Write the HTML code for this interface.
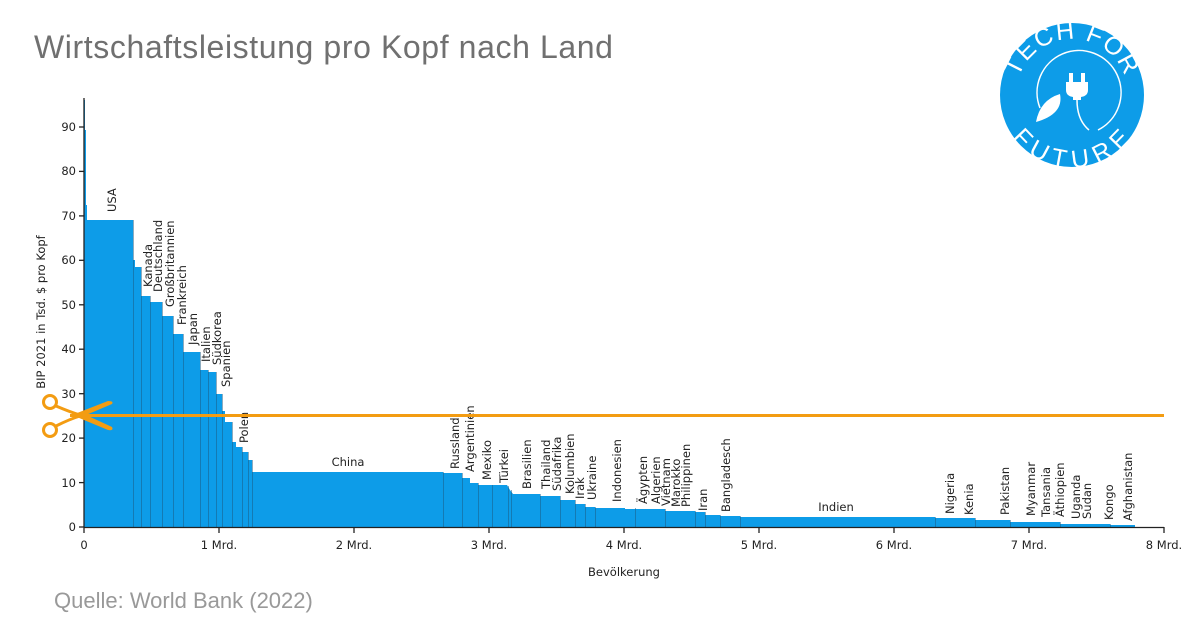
<!DOCTYPE html>
<html><head><meta charset="utf-8"><style>
body{margin:0;background:#fff;width:1200px;height:630px;overflow:hidden;font-family:"Liberation Sans","DejaVu Sans",sans-serif}
</style></head><body>
<svg width="1200" height="630" xmlns="http://www.w3.org/2000/svg" font-family="'DejaVu Sans','Liberation Sans',sans-serif">
<text x="34" y="58" font-family="'Liberation Sans',sans-serif" font-size="32" letter-spacing="0.6" fill="#707070">Wirtschaftsleistung pro Kopf nach Land</text>
<text x="54" y="608" font-family="'Liberation Sans',sans-serif" font-size="22" fill="#999">Quelle: World Bank (2022)</text>
<!-- bars -->
<polygon fill="#0d9ce8" points="84,527 84,100 85,100 85,130 86,130 86,205 87,205 87,220 133,220 133,260 135,260 135,267 141,267 141,296 150,296 150,302 162,302 162,316 173,316 173,334 183,334 183,352 200,352 200,370 208,370 208,372 216,372 216,394 222,394 222,411 225,411 225,422 232,422 232,442 236,442 236,447 242,447 242,452 248,452 248,460 252,460 252,472 443,472 443,473 462,473 462,478 470,478 470,483 478,483 478,485 507,485 510,490 513,494 540,494 540,496 560,496 560,500 575,500 575,504 585,504 585,507 595,507 595,508 625,508 625,509 665,509 665,511 695,511 695,512 705,512 705,515 720,515 720,516 740,516 740,517 935,517 935,518 975,518 975,520 1010,520 1010,522 1060,522 1060,524 1110,524 1110,525 1135,525 1135,527"/>
<g stroke="#1c5a80" stroke-width="1" opacity="0.5">
<line x1="133.5" y1="220" x2="133.5" y2="527"/><line x1="141.5" y1="267" x2="141.5" y2="527"/><line x1="150.5" y1="296" x2="150.5" y2="527"/><line x1="162.5" y1="302" x2="162.5" y2="527"/><line x1="173.5" y1="316" x2="173.5" y2="527"/><line x1="183.5" y1="334" x2="183.5" y2="527"/><line x1="200.5" y1="352" x2="200.5" y2="527"/><line x1="208.5" y1="370" x2="208.5" y2="527"/><line x1="216.5" y1="372" x2="216.5" y2="527"/><line x1="222.5" y1="394" x2="222.5" y2="527"/><line x1="232.5" y1="422" x2="232.5" y2="527"/><line x1="242.5" y1="447" x2="242.5" y2="527"/><line x1="248.5" y1="452" x2="248.5" y2="527"/><line x1="252.5" y1="460" x2="252.5" y2="527"/>
<line x1="443.5" y1="472" x2="443.5" y2="527"/><line x1="462.5" y1="473" x2="462.5" y2="527"/><line x1="478.5" y1="483" x2="478.5" y2="527"/><line x1="492.5" y1="485" x2="492.5" y2="527"/><line x1="508.5" y1="486" x2="508.5" y2="527"/><line x1="511.5" y1="490" x2="511.5" y2="527"/><line x1="540.5" y1="494" x2="540.5" y2="527"/><line x1="560.5" y1="496" x2="560.5" y2="527"/><line x1="575.5" y1="500" x2="575.5" y2="527"/><line x1="585.5" y1="504" x2="585.5" y2="527"/><line x1="595.5" y1="507" x2="595.5" y2="527"/><line x1="635.5" y1="508" x2="635.5" y2="527"/><line x1="665.5" y1="509" x2="665.5" y2="527"/><line x1="695.5" y1="511" x2="695.5" y2="527"/><line x1="705.5" y1="512" x2="705.5" y2="527"/><line x1="720.5" y1="515" x2="720.5" y2="527"/><line x1="740.5" y1="516" x2="740.5" y2="527"/><line x1="935.5" y1="517" x2="935.5" y2="527"/><line x1="975.5" y1="518" x2="975.5" y2="527"/><line x1="1010.5" y1="520" x2="1010.5" y2="527"/><line x1="1060.5" y1="522" x2="1060.5" y2="527"/><line x1="1110.5" y1="524" x2="1110.5" y2="527"/>
</g>
<!-- axes -->
<g stroke="#222" stroke-width="1.3">
<line x1="84" y1="98" x2="84" y2="527"/><line x1="84" y1="527.5" x2="1164" y2="527.5"/>
<line x1="79" y1="527" x2="84" y2="527"/><line x1="79" y1="482.6" x2="84" y2="482.6"/><line x1="79" y1="438.1" x2="84" y2="438.1"/><line x1="79" y1="393.7" x2="84" y2="393.7"/><line x1="79" y1="349.2" x2="84" y2="349.2"/><line x1="79" y1="304.8" x2="84" y2="304.8"/><line x1="79" y1="260.3" x2="84" y2="260.3"/><line x1="79" y1="215.9" x2="84" y2="215.9"/><line x1="79" y1="171.4" x2="84" y2="171.4"/><line x1="79" y1="127" x2="84" y2="127"/>
<line x1="84" y1="527" x2="84" y2="533"/><line x1="219" y1="527" x2="219" y2="533"/><line x1="354" y1="527" x2="354" y2="533"/><line x1="489" y1="527" x2="489" y2="533"/><line x1="624" y1="527" x2="624" y2="533"/><line x1="759" y1="527" x2="759" y2="533"/><line x1="894" y1="527" x2="894" y2="533"/><line x1="1029" y1="527" x2="1029" y2="533"/><line x1="1164" y1="527" x2="1164" y2="533"/>
</g>
<g font-size="11.5" fill="#222" text-anchor="end">
<text x="76" y="531">0</text><text x="76" y="487">10</text><text x="76" y="442">20</text><text x="76" y="398">30</text><text x="76" y="353">40</text><text x="76" y="309">50</text><text x="76" y="264">60</text><text x="76" y="220">70</text><text x="76" y="175">80</text><text x="76" y="131">90</text>
</g>
<g font-size="11.5" fill="#222" text-anchor="middle">
<text x="84" y="549">0</text><text x="219" y="549">1 Mrd.</text><text x="354" y="549">2 Mrd.</text><text x="489" y="549">3 Mrd.</text><text x="624" y="549">4 Mrd.</text><text x="759" y="549">5 Mrd.</text><text x="894" y="549">6 Mrd.</text><text x="1029" y="549">7 Mrd.</text><text x="1164" y="549">8 Mrd.</text>
<text x="624" y="576">Bevölkerung</text>
<text transform="translate(45,312) rotate(-90)">BIP 2021 in Tsd. $ pro Kopf</text>
<text x="348" y="466">China</text><text x="836" y="511">Indien</text>
</g>
<g font-size="11.5" fill="#222">
<text transform="translate(116,212) rotate(-90)">USA</text>
<text transform="translate(152,287) rotate(-90)">Kanada</text>
<text transform="translate(162,292) rotate(-90)">Deutschland</text>
<text transform="translate(174,307) rotate(-90)">Großbritannien</text>
<text transform="translate(186,325) rotate(-90)">Frankreich</text>
<text transform="translate(197,345) rotate(-90)">Japan</text>
<text transform="translate(210,362) rotate(-90)">Italien</text>
<text transform="translate(221,365) rotate(-90)">Südkorea</text>
<text transform="translate(230,387) rotate(-90)">Spanien</text>
<text transform="translate(248,443) rotate(-90)">Polen</text>
<text transform="translate(459,469) rotate(-90)">Russland</text>
<text transform="translate(474,472) rotate(-90)">Argentinien</text>
<text transform="translate(491,480) rotate(-90)">Mexiko</text>
<text transform="translate(508,483) rotate(-90)">Türkei</text>
<text transform="translate(531,489) rotate(-90)">Brasilien</text>
<text transform="translate(550,489) rotate(-90)">Thailand</text>
<text transform="translate(561,491) rotate(-90)">Südafrika</text>
<text transform="translate(574,494) rotate(-90)">Kolumbien</text>
<text transform="translate(584,499) rotate(-90)">Irak</text>
<text transform="translate(596,500) rotate(-90)">Ukraine</text>
<text transform="translate(621,502) rotate(-90)">Indonesien</text>
<text transform="translate(647,504) rotate(-90)">Ägypten</text>
<text transform="translate(660,504) rotate(-90)">Algerien</text>
<text transform="translate(670,506) rotate(-90)">Vietnam</text>
<text transform="translate(680,507) rotate(-90)">Marokko</text>
<text transform="translate(690,507) rotate(-90)">Philippinen</text>
<text transform="translate(707,511) rotate(-90)">Iran</text>
<text transform="translate(730,512) rotate(-90)">Bangladesch</text>
<text transform="translate(954,514) rotate(-90)">Nigeria</text>
<text transform="translate(973,515) rotate(-90)">Kenia</text>
<text transform="translate(1009,515) rotate(-90)">Pakistan</text>
<text transform="translate(1035,516) rotate(-90)">Myanmar</text>
<text transform="translate(1050,517) rotate(-90)">Tansania</text>
<text transform="translate(1064,517) rotate(-90)">Äthiopien</text>
<text transform="translate(1080,519) rotate(-90)">Uganda</text>
<text transform="translate(1091,519) rotate(-90)">Sudan</text>
<text transform="translate(1113,520) rotate(-90)">Kongo</text>
<text transform="translate(1132,521) rotate(-90)">Afghanistan</text>
</g>
<!-- cut line & scissors -->
<line x1="70" y1="415.5" x2="1164" y2="415.5" stroke="#f39c12" stroke-width="3"/>
<g fill="none" stroke="#f39c12" stroke-width="3">
<circle cx="50" cy="402" r="6.5"/><circle cx="50" cy="430" r="6.5"/>
<path d="M56,406 Q70,412 80,415 M56,426 Q70,419 80,416"/>
</g>
<path d="M72,415 L108,401 Q114,401 112,404 L86,415 L112,427 Q114,431 108,430 Z" fill="#f39c12"/>
<!-- logo -->
<circle cx="1072" cy="95" r="72" fill="#0d9ce8"/>
<defs>
<path id="arcTop" d="M1016,95 A56,56 0 0 1 1128,95"/>
<path id="arcBot" d="M1014,92 A58,58 0 0 0 1130,92"/>
</defs>
<text font-family="'Liberation Sans',sans-serif" font-size="25" fill="#fff" letter-spacing="1.5"><textPath href="#arcTop" startOffset="50%" text-anchor="middle">TECH FOR</textPath></text>
<text font-family="'Liberation Sans',sans-serif" font-size="25" fill="#fff" letter-spacing="1.5"><textPath href="#arcBot" startOffset="50%" text-anchor="middle" dominant-baseline="hanging">FUTURE</textPath></text>
<path d="M1040,108 A42,42 0 1 1 1098,130" fill="none" stroke="#fff" stroke-width="1.5"/>
<path d="M1066,82 h22 v8 q0,6 -7,7 v3 h-8 v-3 q-7,-1 -7,-7 z" fill="#fff"/>
<rect x="1069" y="73" width="4" height="10" fill="#fff"/><rect x="1081" y="73" width="4" height="10" fill="#fff"/>
<path d="M1077,100 q0,20 12,30" fill="none" stroke="#fff" stroke-width="1.5"/>
<path d="M1036,122 q4,-22 24,-28 q4,20 -24,28 z" fill="#fff"/>
</svg>
</body></html>
